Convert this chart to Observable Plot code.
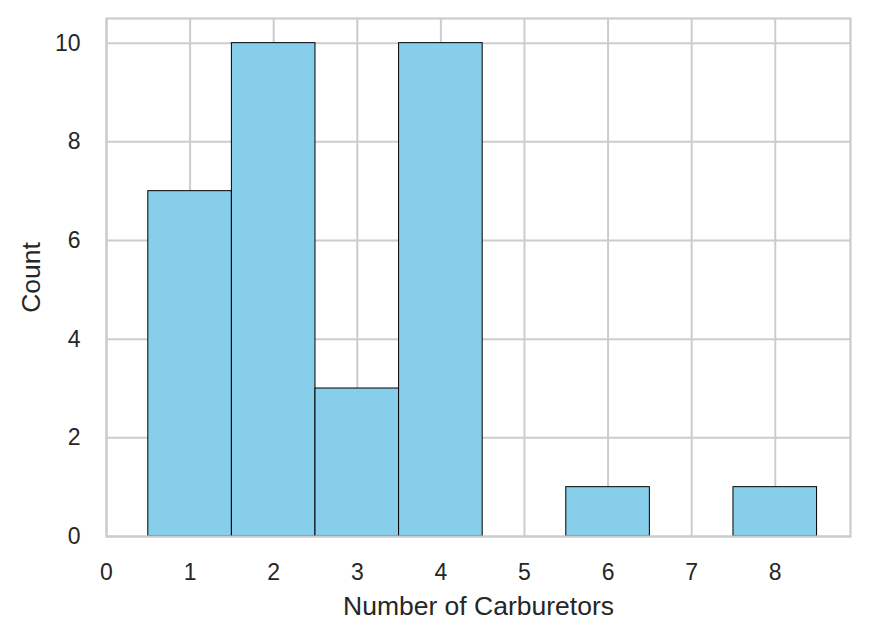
<!DOCTYPE html>
<html><head><meta charset="utf-8">
<script src="https://cdn.jsdelivr.net/npm/d3@7"></script>
<script src="https://cdn.jsdelivr.net/npm/@observablehq/plot@0.6"></script>
<style>body{margin:0;background:#fff} svg{display:block}</style>
</head><body><div id="chart"></div>
<script>
const carbs = [1, 2, 3, 4, 6, 8];
const counts = [7, 10, 3, 10, 1, 1];
const xTicks = [0, 1, 2, 3, 4, 5, 6, 7, 8];
const yTicks = [0, 2, 4, 6, 8, 10];
const xLabel = "Number of Carburetors";
const yLabel = "Count";

const data = carbs.map((c, i) => ({carb: c, count: counts[i]}));

const chart = Plot.plot({
  width: 869, height: 638,
  marginLeft: 106, marginRight: 19, marginTop: 18, marginBottom: 102,
  style: {fontFamily: '"Liberation Sans", Arial, sans-serif', color: "#262626", background: "#fff"},
  x: {domain: [0, 8.9]},
  y: {domain: [0, 10.5]},
  marks: [
    Plot.ruleX(xTicks, {stroke: "#cccccc", strokeWidth: 2}),
    Plot.ruleY(yTicks, {stroke: "#cccccc", strokeWidth: 2}),
    Plot.rect(data, {x1: d => d.carb - 0.5, x2: d => d.carb + 0.5, y1: 0, y2: "count",
      fill: "#87ceeb", stroke: "black", strokeWidth: 1}),
    Plot.frame({stroke: "#cccccc", strokeWidth: 2.2}),
    Plot.axisX({ticks: xTicks, tickSize: 0, tickPadding: 27, fontSize: 23, label: null}),
    Plot.axisY({ticks: yTicks, tickSize: 0, tickPadding: 26, fontSize: 23, label: null}),
    Plot.text([xLabel], {text: d => d, frameAnchor: "bottom", lineAnchor: "top", dy: 60, fontSize: 26.5, fill: "#262626"}),
    Plot.text([yLabel], {text: d => d, frameAnchor: "left", textAnchor: "middle", lineAnchor: "middle", rotate: -90, dx: -75, fontSize: 26.5, fill: "#262626"})
  ]
});
document.getElementById("chart").append(chart);
</script>
</body></html>
